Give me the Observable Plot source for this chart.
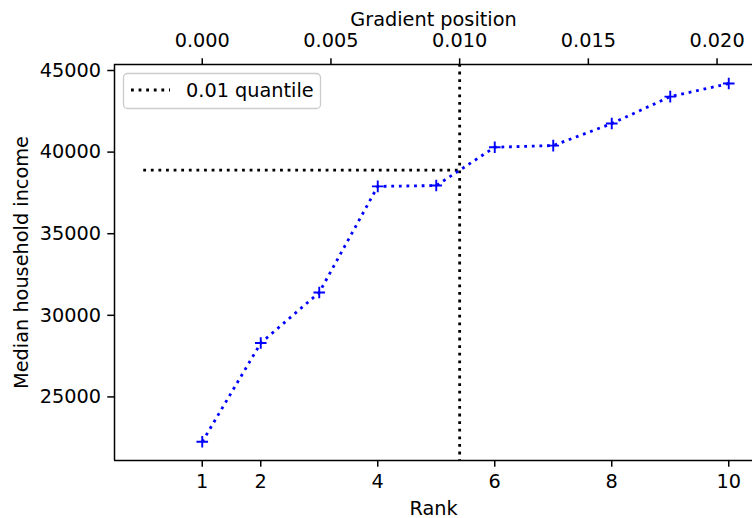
<!DOCTYPE html>
<html><head><meta charset="utf-8">
<script src="https://cdn.jsdelivr.net/npm/d3@7"></script>
<script src="https://cdn.jsdelivr.net/npm/@observablehq/plot@0.6"></script>
<style>
html,body{margin:0;padding:0;background:#fff;}
#chart{width:752px;height:518px;overflow:hidden;}
</style></head><body><div id="chart"></div>
<script>
const ranks = [1, 2, 3, 4, 5, 6, 7, 8, 9, 10];
const incomes = [22250, 28300, 31400, 37900, 37950, 40300, 40400, 41750, 43400, 44200];
const rankTicks = [1, 2, 4, 6, 8, 10];
const incomeTicks = [25000, 30000, 35000, 40000, 45000];
const gradientTicks = [0, 0.005, 0.010, 0.015, 0.020];
const quantileGradient = 0.01;
const quantileRank = 5.40;
const quantileIncome = 38900;
const quantileLineStart = 0;
const legendLabel = "0.01 quantile";
const xLabel = "Rank";
const x2Label = "Gradient position";
const yLabel = "Median household income";

const rankOfGradient = g => 1 + g / quantileGradient * (quantileRank - 1);
const gradientOfRank = r => (r - 1) / (quantileRank - 1) * quantileGradient;

const data = ranks.map((rank, i) => ({rank, income: incomes[i]}));
const FS = 19.3, TICK = 6.7, PAD = 6.7;
const dotted = {strokeWidth: 2.8, strokeDasharray: "2.8,4.8", strokeLinecap: "butt"};
const plusSymbol = {
  draw(ctx, size) {
    const r = Math.sqrt(size / Math.PI);
    ctx.moveTo(-r, 0); ctx.lineTo(r, 0);
    ctx.moveTo(0, -r); ctx.lineTo(0, r);
  }
};
const xDomain = [-0.5, 10.406];
const yDomain = [21104, 45368];

const plot = Plot.plot({
  width: 752, height: 518,
  marginLeft: 114, marginRight: 0, marginTop: 64, marginBottom: 58,
  style: {fontFamily: "'DejaVu Sans', sans-serif", fontSize: FS + "px", color: "black", background: "white"},
  x: {domain: xDomain},
  y: {domain: yDomain},
  marks: [
    Plot.ruleY([quantileIncome], {x1: quantileLineStart, x2: quantileRank, stroke: "black", ...dotted}),
    Plot.ruleX([quantileRank], {stroke: "black", ...dotted}),
    Plot.line(data, {x: "rank", y: "income", stroke: "#0000ff", ...dotted}),
    Plot.dot(data, {x: "rank", y: "income", symbol: plusSymbol, r: 5.8, stroke: "#0000ff", fill: "none", strokeWidth: 1.9}),
    Plot.ruleX([xDomain[0]], {stroke: "black", strokeWidth: 1.5}),
    Plot.ruleY(yDomain, {stroke: "black", strokeWidth: 1.5}),
    Plot.axisX(rankTicks, {anchor: "bottom", tickSize: TICK, tickPadding: PAD, strokeWidth: 1.5,
      tickFormat: d => String(d), label: xLabel, labelAnchor: "center", labelOffset: 54, labelArrow: "none"}),
    Plot.axisX(gradientTicks.map(rankOfGradient), {anchor: "top", tickSize: TICK, tickPadding: 10.6, strokeWidth: 1.5,
      tickFormat: r => gradientOfRank(r).toFixed(3), label: x2Label, labelAnchor: "center", labelOffset: 52, labelArrow: "none"}),
    Plot.axisY(incomeTicks, {anchor: "left", tickSize: TICK, tickPadding: PAD, strokeWidth: 1.5,
      tickFormat: d => String(d), label: yLabel, labelAnchor: "center", labelOffset: 100, labelArrow: "none"})
  ]
});

const svg = d3.select(plot);
const lg = svg.append("g").attr("class", "legend").attr("text-anchor", "start");
lg.append("rect").attr("x", 123.5).attr("y", 73.5).attr("width", 197).attr("height", 35)
  .attr("rx", 4).attr("fill", "white").attr("fill-opacity", 0.8)
  .attr("stroke", "#cccccc").attr("stroke-width", 1.3);
lg.append("line").attr("x1", 131).attr("x2", 170).attr("y1", 90).attr("y2", 90)
  .attr("stroke", "black").attr("stroke-width", 2.8).attr("stroke-dasharray", "2.8,4.8");
lg.append("text").attr("x", 186).attr("y", 96.5).attr("fill", "black")
  .attr("text-anchor", "start").text(legendLabel);

document.getElementById("chart").appendChild(plot);
</script>
</body></html>
